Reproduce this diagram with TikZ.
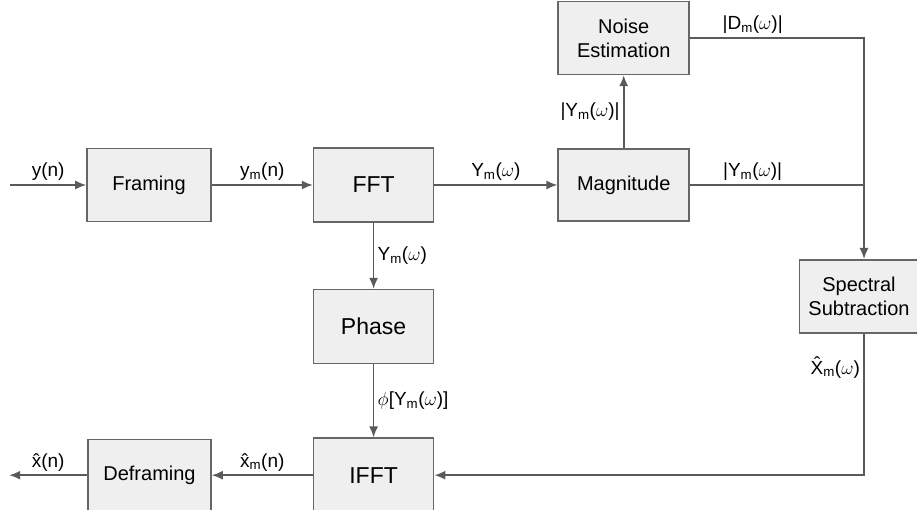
\documentclass[tikz,border=0pt]{standalone}
\usepackage{fix-cm}
\usepackage{fontspec}
\setmainfont{Liberation Sans}
\usepackage{tikz}
\usetikzlibrary{positioning,arrows.meta}

\definecolor{boxfill}{HTML}{EFEFEF}
\definecolor{boxline}{HTML}{666666}
\definecolor{wirecol}{HTML}{5A5A5A}

\newcommand*{\Ym}{Y\textsubscript{m}($\omega$)}

\begin{document}
\begin{tikzpicture}[x=1pt, y=1pt, line width=1.6pt, >={Latex[length=11pt,width=9pt]},
    block/.style={draw=boxline, fill=boxfill, align=center, inner sep=0pt,
        font=\fontsize{20}{24}\selectfont, minimum width=124pt, minimum height=73pt},
    bigblock/.style={block, font=\fontsize{23}{27}\selectfont, minimum width=120pt, minimum height=74pt},
    wire/.style={draw=wirecol},
    lbl/.style={font=\fontsize{19}{22}\selectfont}]
    \useasboundingbox (0,0) rectangle (917,510);

    \node[block] (frame) at (149,325) {Framing};
    \node[bigblock, right=101pt of frame] (fft) {FFT};
    \node[block, right=123pt of fft, minimum width=131pt, minimum height=72pt] (mag) {Magnitude};
    \node[block, above=73pt of mag, minimum width=131pt] (noise) {Noise\\Estimation};
    \node[bigblock, below=66pt of fft] (phase) {Phase};
    \node[bigblock, below=73pt of phase] (ifft) {IFFT};
    \node[block, left=101pt of ifft, minimum width=123pt, minimum height=71pt] (defr) {Deframing};

    \coordinate[right=174pt of mag] (jn);
    \node[block, below=74pt of jn, xshift=-5pt, minimum width=119pt] (spec) {Spectral\\Subtraction};
    \coordinate[left=76pt of frame] (yin);
    \coordinate[left=78pt of defr] (xout);

    \draw[wire, ->] (yin) -- node[lbl, above] {y(n)} (frame);
    \draw[wire, ->] (frame) -- node[lbl, above] {y\textsubscript{m}(n)} (fft);
    \draw[wire, ->] (fft) -- node[lbl, above] {\Ym} (mag);
    \draw[wire, ->] (fft) -- node[lbl, right] {\Ym} (phase);
    \draw[wire, ->] (phase) -- node[lbl, right] {$\phi$[\Ym]} (ifft);
    \draw[wire, ->] (mag) -- node[lbl, left] {|\Ym|} (noise);

    \draw[wire] (noise) -| node[lbl, above, pos=0.18] {|D\textsubscript{m}($\omega$)|} (jn);
    \draw[wire] (mag) -- node[lbl, above, pos=0.36] {|\Ym|} (jn);
    \draw[wire, ->] (jn) -- (jn |- spec.north);
    \draw[wire, ->] (spec.south -| jn) |- node[lbl, left, pos=0.12] {\^{X}\textsubscript{m}($\omega$)} (ifft);

    \draw[wire, ->] (ifft) -- node[lbl, above] {\^{x}\textsubscript{m}(n)} (defr);
    \draw[wire, ->] (defr) -- node[lbl, above] {\^{x}(n)} (xout);
\end{tikzpicture}
\end{document}
